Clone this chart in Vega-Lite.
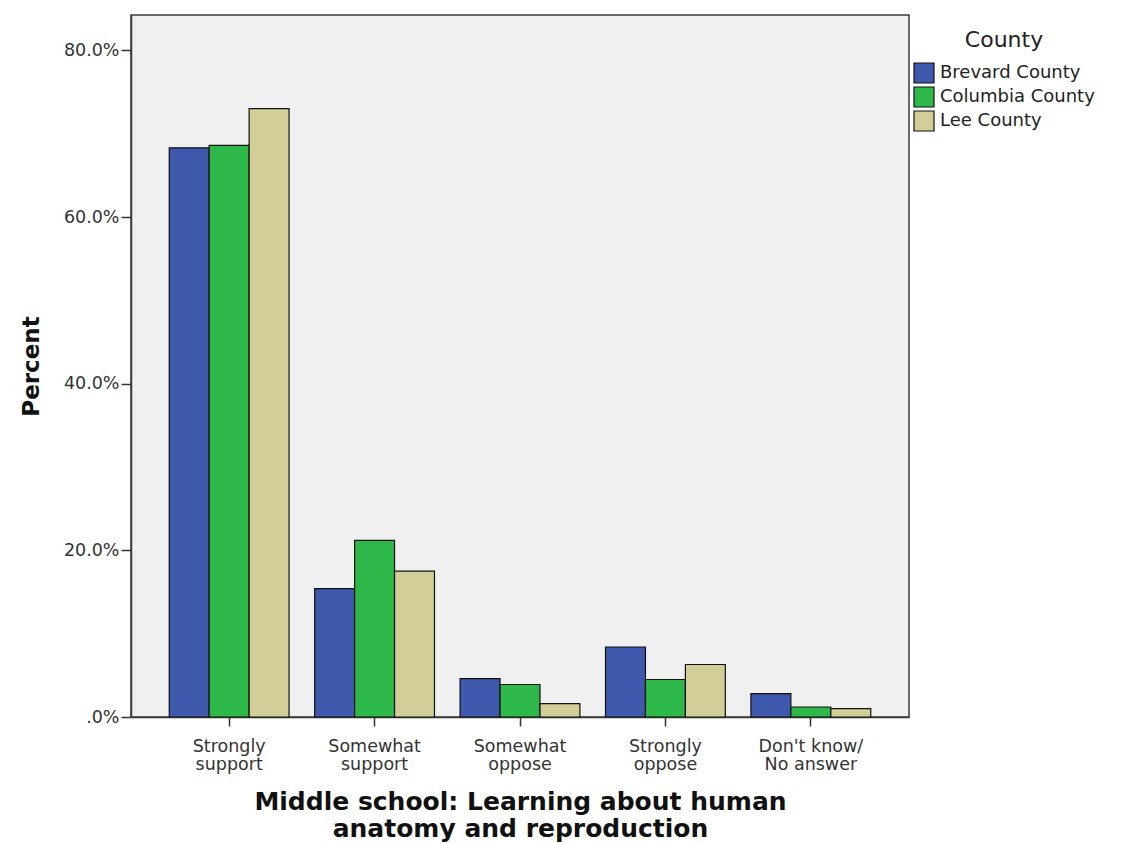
{
  "$schema": "https://vega.github.io/schema/vega-lite/v6.json",
  "autosize": {"type": "none"},
  "padding": {"left": 131, "top": 15, "right": 214, "bottom": 127},
  "width": 778,
  "height": 702,
  "background": "white",
  "data": {
    "values": [
      {"response": "Strongly support", "county": "Brevard County", "pct": 68.3},
      {"response": "Strongly support", "county": "Columbia County", "pct": 68.6},
      {"response": "Strongly support", "county": "Lee County", "pct": 73.0},
      {"response": "Somewhat support", "county": "Brevard County", "pct": 15.4},
      {"response": "Somewhat support", "county": "Columbia County", "pct": 21.2},
      {"response": "Somewhat support", "county": "Lee County", "pct": 17.5},
      {"response": "Somewhat oppose", "county": "Brevard County", "pct": 4.6},
      {"response": "Somewhat oppose", "county": "Columbia County", "pct": 3.9},
      {"response": "Somewhat oppose", "county": "Lee County", "pct": 1.6},
      {"response": "Strongly oppose", "county": "Brevard County", "pct": 8.4},
      {"response": "Strongly oppose", "county": "Columbia County", "pct": 4.5},
      {"response": "Strongly oppose", "county": "Lee County", "pct": 6.3},
      {"response": "Don't know/No answer", "county": "Brevard County", "pct": 2.8},
      {"response": "Don't know/No answer", "county": "Columbia County", "pct": 1.2},
      {"response": "Don't know/No answer", "county": "Lee County", "pct": 1.0}
    ]
  },
  "config": {
    "font": "DejaVu Sans",
    "view": {"fill": "#f0f0f0", "stroke": "#3a3a3a", "strokeWidth": 1.5}
  },
  "mark": {"type": "bar", "stroke": "#111111", "strokeWidth": 1.2},
  "encoding": {
    "x": {
      "field": "response",
      "type": "nominal",
      "sort": ["Strongly support", "Somewhat support", "Somewhat oppose", "Strongly oppose", "Don't know/No answer"],
      "scale": {"paddingInner": 0.176, "paddingOuter": 0.263},
      "axis": {
        "title": ["Middle school: Learning about human", "anatomy and reproduction"],
        "titleFont": "DejaVu Sans",
        "titleFontSize": 25,
        "titleFontWeight": "bold",
        "titleColor": "#111111",
        "titleLineHeight": 27,
        "titlePadding": 17,
        "labelAngle": 0,
        "labelFontSize": 17.5,
        "labelColor": "#333333",
        "labelLineHeight": 18,
        "labelPadding": 11,
        "labelExpr": "datum.label == \"Don't know/No answer\" ? [\"Don't know/\", \"No answer\"] : split(datum.label, ' ')",
        "tickSize": 9,
        "tickColor": "#333333",
        "tickWidth": 1.5,
        "domainColor": "#3a3a3a",
        "domainWidth": 1.5
      }
    },
    "xOffset": {
      "field": "county",
      "type": "nominal",
      "sort": ["Brevard County", "Columbia County", "Lee County"]
    },
    "y": {
      "field": "pct",
      "type": "quantitative",
      "scale": {"domain": [0, 84.24], "nice": false},
      "axis": {
        "title": "Percent",
        "titleFont": "DejaVu Sans",
        "titleFontSize": 23,
        "titleFontWeight": "bold",
        "titleColor": "#111111",
        "titlePadding": 20,
        "values": [0, 20, 40, 60, 80],
        "labelExpr": "datum.value == 0 ? '.0%' : format(datum.value, '.1f') + '%'",
        "labelFontSize": 17.5,
        "labelColor": "#333333",
        "labelPadding": 2,
        "tickSize": 10,
        "tickColor": "#333333",
        "tickWidth": 1.5,
        "grid": false,
        "domainColor": "#3a3a3a",
        "domainWidth": 1.5
      }
    },
    "fill": {
      "field": "county",
      "type": "nominal",
      "sort": ["Brevard County", "Columbia County", "Lee County"],
      "scale": {"range": ["#3e58ac", "#2fb84a", "#d3ce98"]},
      "legend": {
        "title": "County",
        "orient": "none",
        "legendX": 782,
        "legendY": 15,
        "titleFontSize": 22,
        "titleFontWeight": "normal",
        "titleColor": "#222222",
        "titleAnchor": "middle",
        "titlePadding": 10,
        "labelFontSize": 18,
        "labelColor": "#222222",
        "symbolType": "square",
        "symbolSize": 400,
        "symbolStrokeColor": "#111111",
        "symbolStrokeWidth": 1.2,
        "rowPadding": -2,
        "labelOffset": 5
      }
    }
  }
}
